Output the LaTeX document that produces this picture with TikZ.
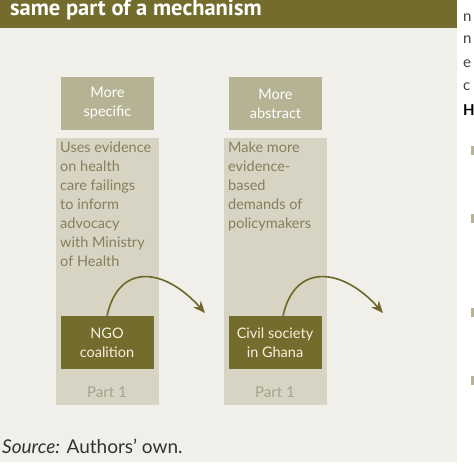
\documentclass[tikz,border=0pt]{standalone}
\usepackage{fontspec}
\setmainfont{Lato}
\newfontfamily\titlefont{PT Sans}
\usetikzlibrary{positioning,arrows.meta}
\definecolor{olive}    {HTML}{746C2C}
\definecolor{headfill} {HTML}{B5B394}
\definecolor{colfill}  {HTML}{D7D4C4}
\definecolor{panel}    {HTML}{F0EFEA}
\definecolor{bodyink}  {HTML}{857F5C}
\definecolor{partink}  {HTML}{A6A38C}
\definecolor{cream}    {HTML}{F4F1DE}
\definecolor{arrowink} {HTML}{6E6728}
\definecolor{srcink}   {HTML}{333333}
\tikzset{
  % --- boxes
  col/.style   = {fill=colfill, minimum width=103, minimum height=267, inner sep=0pt},
  hdr/.style   = {fill=headfill, text=white, align=center, minimum width=93,
                  minimum height=53, inner sep=0pt, font=\fontsize{14.5}{19}\selectfont},
  actor/.style = {hdr, fill=olive, text=cream},
  body/.style  = {text=bodyink, align=left, inner sep=0pt,
                  font=\fontsize{14.5}{19}\selectfont},
  part/.style  = {text=partink, inner sep=0pt, font=\fontsize{15}{17}\selectfont},
  frag/.style  = {anchor=base west, inner sep=0pt, text=black!75, font=\fontsize{15}{17}\selectfont},
  bullet/.style= {fill=headfill, minimum width=8, minimum height=9, inner sep=0pt},
  % --- edges
  flow/.style  = {-{Stealth[length=12pt,width=10pt]}, draw=arrowink, line width=1.6pt},
}
\begin{document}
\begin{tikzpicture}[x=1pt,y=1pt]
  \useasboundingbox (0,0) rectangle (474,-466);
  \fill[white] (0,0) rectangle (474,-466);
  \fill[panel] (0,-28) rectangle (457,-462);
  \node[fill=olive, minimum width=457, minimum height=28, inner sep=0pt, anchor=north west]
    (bar) at (0,0) {};
  \node[anchor=base west, text=white, inner sep=0pt, font=\fontsize{22.5}{26}\titlefont\bfseries]
    (title) at (10,-15.5) {same part of a mechanism};

  % columns
  \node[col, anchor=north west] (colA) at (56,-138) {};
  \node[col, anchor=north west] (colB) at (224,-138) {};
  \node[hdr] (hdrA) at (107.5,-103.5) {More\\specific};
  \node[hdr] (hdrB) at (275.5,-103.5) {More\\abstract};
  \node[body, anchor=north west] (txtA) at (60,-142)
    {Uses evidence\\on health\\care failings\\to inform\\advocacy\\with Ministry\\of Health};
  \node[body, anchor=north west] (txtB) at (228,-142)
    {Make more\\evidence-\\based\\demands of\\policymakers};
  \node[actor] (ngo) at (107,-342.5) {NGO\\coalition};
  \node[actor] (civ) at (275,-342.5) {Civil society\\in Ghana};
  \node[part] (partA) at (107,-392) {Part 1};
  \node[part] (partB) at (275,-392) {Part 1};

  % arrows
  \coordinate (endA) at (205,-313);
  \coordinate (endB) at (383,-313);
  \draw[flow] (ngo.north) .. controls +(12,54) and (165,-268) .. (endA);
  \draw[flow] ([xshift=8]civ.north) .. controls +(12,54) and (343,-268) .. (endB);

  \node[anchor=base west, inner sep=0pt, text=srcink, font=\fontsize{19}{21}\selectfont]
    (src) at (2,-453) {\textit{Source:}\/ Authors' own.};

  % neighbouring column, cut off
  \node[frag] (fA) at (463,-21) {n};
  \node[frag] (fB) at (463,-43) {n};
  \node[frag] (fC) at (463,-67) {e};
  \node[frag] (fD) at (463,-90) {c};
  \node[frag, text=black, font=\fontsize{15}{17}\selectfont\bfseries] (fE) at (463,-115) {H};
  \foreach \y/\n in {150/a,218/b,312/c,380/d}
    \node[bullet, anchor=west] (blt\n) at (471,-\y) {};
\end{tikzpicture}
\end{document}
